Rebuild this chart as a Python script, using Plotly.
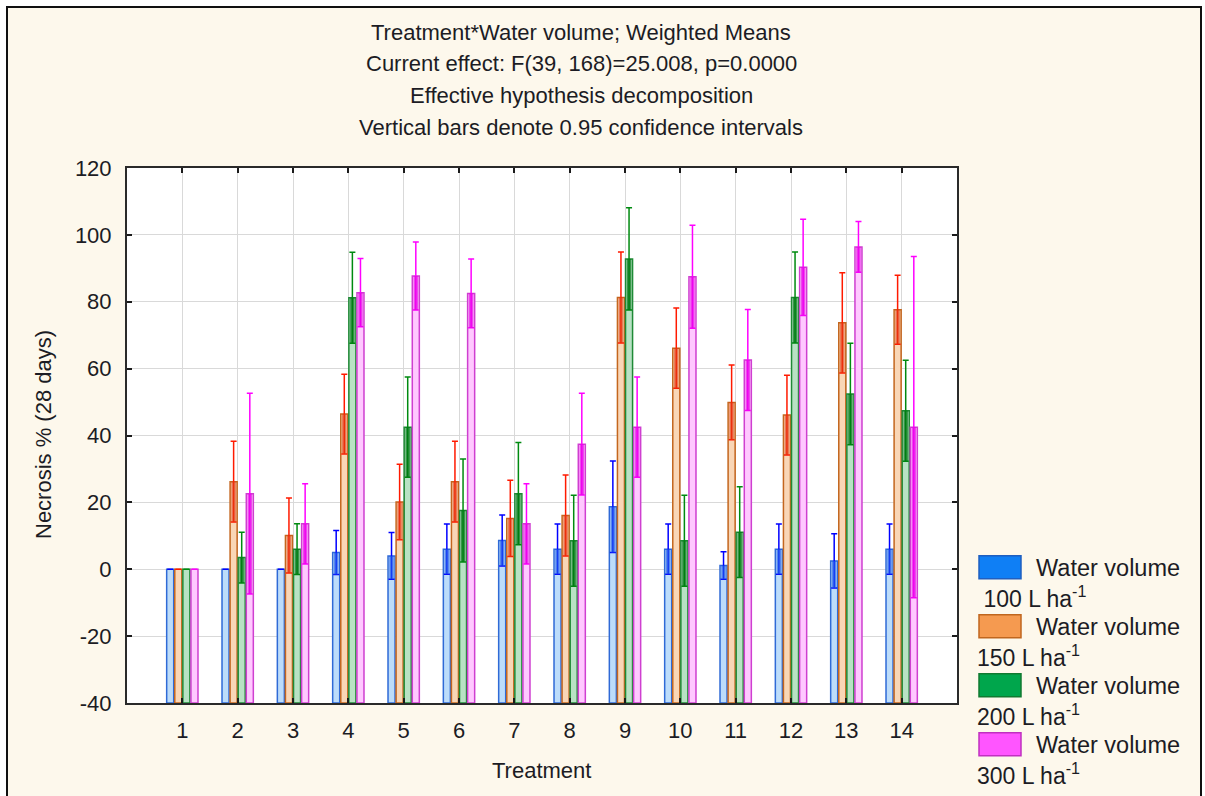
import plotly.graph_objects as go

# Treatment groups on the x axis
treatments = list(range(1, 15))

# Weighted means of necrosis (%) at 28 days for each water volume
necrosis_100 = [0, 0, 0, 5.0, 4.0, 6.0, 8.6, 6.0, 18.7, 6.0, 1.1, 6.0, 2.5, 6.0]
necrosis_150 = [0, 26.2, 10.1, 46.4, 20.1, 26.2, 15.2, 16.1, 81.3, 66.1, 49.9, 46.1, 73.7, 77.6]
necrosis_200 = [0, 3.5, 6.0, 81.2, 42.5, 17.6, 22.6, 8.5, 92.8, 8.5, 11.1, 81.3, 52.4, 47.4]
necrosis_300 = [0, 22.6, 13.6, 82.7, 87.7, 82.5, 13.6, 37.4, 42.5, 87.5, 62.6, 90.3, 96.4, 42.5]

# Half-widths of the 0.95 confidence intervals (None = no interval drawn)
ci_100 = [None, None, None, 6.6, 7.0, 7.5, 7.6, 7.5, 13.7, 7.5, 4.1, 7.5, 8.1, 7.5]
ci_150 = [None, 12.1, 11.2, 11.9, 11.3, 12.1, 11.4, 12.1, 13.6, 12.0, 11.2, 11.9, 15.0, 10.3]
ci_200 = [None, 7.6, 7.6, 13.6, 15.0, 15.4, 15.3, 13.6, 15.3, 13.6, 13.6, 13.6, 15.2, 15.1]
ci_300 = [None, 30.0, 12.0, 10.2, 10.2, 10.3, 12.0, 15.2, 15.0, 15.4, 15.1, 14.4, 7.6, 51.0]

volumes = ["100", "150", "200", "300"]
y_ticks = [-40, -20, 0, 20, 40, 60, 80, 100, 120]
y_ticktext = ["-40", "-20", "0", "20", "40", "60", "80", "100", "120"]
Y_MIN, Y_MAX = -40, 120

FONT = "Liberation Sans, Arial, sans-serif"
TEXT = "#1c1c24"
CREAM = "#fdf8ec"

series = [
    # means, ci, bar fill, bar outline, whisker colour, whisker box colour, swatch fill, swatch line
    (necrosis_100, ci_100, "#bcdcfa", "#2f6ad6", "#0000ff", "rgba(30,90,235,0.65)", "#0f7ff5", "#1f5fc0"),
    (necrosis_150, ci_150, "#f9d6b6", "#c4661e", "#ff1a00", "rgba(225,60,20,0.6)", "#f59a50", "#c0661e"),
    (necrosis_200, ci_200, "#b8e2c4", "#1f8a36", "#008a10", "rgba(0,120,20,0.7)", "#00a64c", "#107a30"),
    (necrosis_300, ci_300, "#ffc8ff", "#cf3fd0", "#ff00ff", "rgba(230,0,230,0.65)", "#ff55ff", "#c030c0"),
]

# Page geometry (pixels) used to place free text and legend items
W, H = 1205, 796
ML, MR, MT, MB = 127, 248, 168, 93
PW, PH = W - ML - MR, H - MT - MB


def px_x(px):
    return (px - ML) / PW


def px_y(py):
    return (H - MB - py) / PH


fig = go.Figure()

for i, (means, ci, fill, outline, wcol, boxcol, _, _) in enumerate(series):
    heights = [m - Y_MIN for m in means]  # bars rise from the bottom of the axis
    group = f"g{i}"
    fig.add_trace(go.Bar(
        x=treatments, y=heights, base=Y_MIN, offsetgroup=group,
        marker=dict(color=fill, line=dict(color=outline, width=1.5)),
        error_y=dict(type="data", array=ci, arrayminus=ci, symmetric=False,
                     color=wcol, thickness=1.5, width=3),
        showlegend=False, hoverinfo="skip",
    ))
    # heavier whisker segment from the lower limit up to the mean
    zeros = [None if c is None else 0 for c in ci]
    fig.add_trace(go.Bar(
        x=treatments, y=heights, base=Y_MIN, offsetgroup=group,
        marker=dict(color="rgba(0,0,0,0)", line=dict(width=0)),
        error_y=dict(type="data", array=zeros, arrayminus=ci, symmetric=False,
                     color=boxcol, thickness=4.5, width=0),
        showlegend=False, hoverinfo="skip",
    ))

shapes = [
    # white strips outside the framed figure and the frame itself
    dict(type="rect", xref="paper", yref="paper", x0=px_x(0), x1=px_x(7), y0=px_y(H + 5), y1=px_y(-5),
         fillcolor="white", line=dict(width=0), layer="above"),
    dict(type="rect", xref="paper", yref="paper", x0=px_x(0), x1=px_x(W + 5), y0=px_y(7), y1=px_y(-5),
         fillcolor="white", line=dict(width=0), layer="above"),
    dict(type="rect", xref="paper", yref="paper", x0=px_x(1201), x1=px_x(W + 5), y0=px_y(H + 5), y1=px_y(-5),
         fillcolor="white", line=dict(width=0), layer="above"),
    dict(type="path", xref="paper", yref="paper",
         path=f"M {px_x(7)} {px_y(H + 5)} L {px_x(7)} {px_y(7)} L {px_x(1201)} {px_y(7)} L {px_x(1201)} {px_y(H + 5)}",
         line=dict(color="#101010", width=2), layer="above"),
]

annotations = []
title_lines = [
    "Treatment*Water volume; Weighted Means",
    "Current effect: F(39, 168)=25.008, p=0.0000",
    "Effective hypothesis decomposition",
    "Vertical bars denote 0.95 confidence intervals",
]
for k, line in enumerate(title_lines):
    annotations.append(dict(text=line, xref="paper", yref="paper", x=px_x(581), y=px_y(32 + 31.7 * k),
                            xanchor="center", yanchor="middle", showarrow=False,
                            font=dict(family=FONT, size=22, color=TEXT)))

annotations.append(dict(text="Necrosis % (28 days)", xref="paper", yref="paper", x=px_x(43), y=px_y(435),
                        xanchor="center", yanchor="middle", textangle=-90, showarrow=False,
                        font=dict(family=FONT, size=22, color=TEXT)))
annotations.append(dict(text="Treatment", xref="paper", yref="paper", x=px_x(541), y=px_y(770),
                        xanchor="center", yanchor="middle", showarrow=False,
                        font=dict(family=FONT, size=22, color=TEXT)))

# Legend: swatch with the label split over two lines
for k, (vol, s) in enumerate(zip(volumes, series)):
    top = 555.7 + 59 * k
    shapes.append(dict(type="rect", xref="paper", yref="paper",
                       x0=px_x(979), x1=px_x(1021), y0=px_y(top + 23), y1=px_y(top),
                       fillcolor=s[6], line=dict(color=s[7], width=1.5)))
    annotations.append(dict(text="Water volume", xref="paper", yref="paper", x=px_x(1034), y=px_y(top + 12),
                            xanchor="left", yanchor="middle", showarrow=False,
                            font=dict(family=FONT, size=23.5, color=TEXT)))
    lead = "\u00a0" if k == 0 else ""
    annotations.append(dict(text=f"{lead}{vol} L ha<sup>-1</sup>", xref="paper", yref="paper",
                            x=px_x(975), y=px_y(top + 41), xanchor="left", yanchor="middle", showarrow=False,
                            font=dict(family=FONT, size=23, color=TEXT)))

axis_common = dict(
    showline=True, linecolor="#2a2a2a", linewidth=2, mirror="ticks",
    ticks="inside", ticklen=5, tickwidth=2, tickcolor="#1a1a1a",
    showgrid=True, gridcolor="#d9d9d9", gridwidth=1, zeroline=False,
    tickfont=dict(family=FONT, size=22, color=TEXT),
)

fig.update_layout(
    width=W, height=H,
    margin=dict(l=ML, r=MR, t=MT, b=MB, pad=0),
    paper_bgcolor=CREAM, plot_bgcolor="white",
    barmode="group", bargap=0.415, bargroupgap=0.13,
    showlegend=False,
    xaxis=dict(range=[0, 15], tickvals=treatments, ticktext=[str(t) for t in treatments],
               ticklabelstandoff=7, **axis_common),
    yaxis=dict(range=[Y_MIN, Y_MAX], tickvals=y_ticks, ticktext=y_ticktext,
               ticklabelstandoff=9, **axis_common),
    shapes=shapes, annotations=annotations,
    font=dict(family=FONT, color=TEXT),
)

fig.write_html("out.html")
